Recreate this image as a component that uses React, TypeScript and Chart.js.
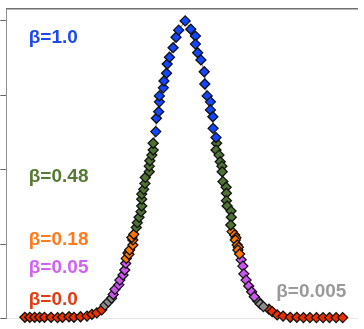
import React, { useEffect, useRef } from "react";
import { Chart, registerables } from "chart.js";

Chart.register(...registerables);

// [x, y] pairs, grouped by colour band
const blueSeries: number[][] = [
  [-0.957, 0.628], [-0.933, 0.673], [-0.857, 0.695], [-0.833, 0.728], [-0.833, 0.748],
  [-0.7, 0.775], [-0.677, 0.798], [-0.59, 0.824], [-0.567, 0.855], [-0.49, 0.878],
  [-0.367, 0.91], [-0.267, 0.945], [-0.177, 0.969], [0.043, 1.0],
  [0.233, 0.972], [0.39, 0.949], [0.39, 0.922], [0.467, 0.893], [0.577, 0.869],
  [0.69, 0.829], [0.71, 0.788], [0.79, 0.748], [0.9, 0.728], [0.9, 0.701],
  [0.983, 0.678], [0.99, 0.639], [1.09, 0.608],
];
const greenSeries: number[][] = [
  [-1.617, 0.306], [-1.583, 0.322], [-1.523, 0.34], [-1.457, 0.359], [-1.433, 0.378],
  [-1.433, 0.401], [-1.433, 0.418], [-1.367, 0.434], [-1.323, 0.454], [-1.31, 0.474],
  [-1.177, 0.493], [-1.177, 0.512], [-1.157, 0.53], [-1.09, 0.549], [-1.043, 0.566],
  [-1.043, 0.589],
  [1.11, 0.589], [1.09, 0.566], [1.19, 0.549], [1.233, 0.527], [1.29, 0.512],
  [1.3, 0.493], [1.323, 0.46], [1.433, 0.441], [1.443, 0.421], [1.443, 0.396],
  [1.467, 0.378], [1.6, 0.361], [1.61, 0.34], [1.59, 0.314],
];
const orangeSeries: number[][] = [
  [-1.957, 0.202], [-1.9, 0.22], [-1.867, 0.216], [-1.843, 0.23], [-1.733, 0.247],
  [-1.733, 0.264], [-1.767, 0.272], [-1.7, 0.283],
  [1.633, 0.292], [1.723, 0.281], [1.767, 0.271], [1.743, 0.264], [1.81, 0.247],
  [1.85, 0.239], [1.833, 0.23], [1.89, 0.217],
];
const purpleSeries: number[][] = [
  [-2.4, 0.081], [-2.343, 0.098], [-2.21, 0.113], [-2.177, 0.129], [-2.067, 0.146],
  [-2.01, 0.163], [-1.977, 0.185],
  [1.943, 0.197], [2.0, 0.176], [2.033, 0.15], [2.11, 0.129], [2.2, 0.109],
  [2.3, 0.09], [2.39, 0.073],
];
const graySeries: number[][] = [
  [-2.677, 0.045], [-2.567, 0.056], [-2.457, 0.068],
  [2.5, 0.06], [2.59, 0.049], [2.7, 0.04],
];
const redSeries: number[][] = [
  [-5.4, 0.004], [-5.233, 0.004], [-5.067, 0.004], [-4.9, 0.004], [-4.733, 0.004],
  [-4.51, 0.004], [-4.29, 0.003], [-4.123, 0.004], [-3.9, 0.006], [-3.733, 0.004],
  [-3.51, 0.006], [-3.29, 0.008], [-3.123, 0.014], [-2.957, 0.019], [-2.79, 0.029],
  [2.89, 0.031], [3.0, 0.023], [3.167, 0.012], [3.367, 0.008], [3.61, 0.004],
  [3.833, 0.004], [4.057, 0.003], [4.277, 0.003], [4.5, 0.003], [4.723, 0.003],
  [4.943, 0.003], [5.167, 0.003], [5.39, 0.003],
];

const yTicks = [0, 0.25, 0.5, 0.75, 1.0];

const labelTexts = ["β=1.0", "β=0.48", "β=0.18", "β=0.05", "β=0.0", "β=0.005"];
const labelX = [-5.267, -5.267, -5.267, -5.267, -5.267, 3.133];
const labelY = [0.943, 0.475, 0.264, 0.17, 0.062, 0.09];

const pointColors = ["#1446ff", "#4f7333", "#ff7700", "#cc55ee", "#8c8c8c", "#e83000"];
const labelColors = ["#1c48f2", "#557a32", "#ff7a1a", "#d160f5", "#e23a12", "#9a9a9a"];

export default function App() {
  const ref = useRef<HTMLCanvasElement | null>(null);

  useEffect(() => {
    if (!ref.current) return;
    const groups = [blueSeries, greenSeries, orangeSeries, purpleSeries, graySeries, redSeries];
    const toPts = (arr: number[][]) => arr.map(([x, y]) => ({ x, y }));
    const curve = groups
      .flat()
      .map(([x, y]) => ({ x, y }))
      .sort((a, b) => a.x - b.x);

    const labelPlugin = {
      id: "bandLabels",
      afterDatasetsDraw(chart: any) {
        const { ctx, scales } = chart;
        ctx.save();
        ctx.font = 'bold 19px "Liberation Sans", Arial, sans-serif';
        ctx.textAlign = "left";
        ctx.textBaseline = "middle";
        labelTexts.forEach((t, i) => {
          ctx.fillStyle = labelColors[i];
          ctx.fillText(t, scales.x.getPixelForValue(labelX[i]), scales.y.getPixelForValue(labelY[i]));
        });
        ctx.restore();
      },
    };

    const scatterDs = groups.map((g, i) => ({
      data: toPts(g),
      pointStyle: "rectRot",
      pointRadius: 5,
      pointBackgroundColor: pointColors[i],
      pointBorderColor: "#111111",
      pointBorderWidth: 1.3,
      showLine: false,
      clip: false,
    }));

    const chart = new Chart(ref.current, {
      type: "scatter",
      data: {
        datasets: [
          ...scatterDs,
          {
            data: curve,
            showLine: true,
            borderColor: "#8a8a8a",
            borderWidth: 1,
            pointRadius: 0,
            clip: false,
          },
        ] as any,
      },
      options: {
        animation: false,
        responsive: false,
        layout: { padding: { left: 0, top: 9, right: 0, bottom: 10.5 } },
        plugins: { legend: { display: false }, tooltip: { enabled: false } },
        scales: {
          x: {
            type: "linear",
            position: "bottom",
            min: -6.03,
            max: 5.9,
            grid: { display: false, drawTicks: false, tickLength: 0 },
            ticks: { display: false },
            border: { display: true, color: "#e6e6e6", width: 1 },
          },
          x2: {
            type: "linear",
            position: "top",
            min: -6.03,
            max: 5.9,
            grid: { display: false, drawTicks: false, tickLength: 0 },
            ticks: { display: false },
            border: { display: true, color: "#707070", width: 1.5 },
          },
          y: {
            type: "linear",
            position: "left",
            min: 0,
            max: 1.04,
            afterBuildTicks: (axis: any) => {
              axis.ticks = yTicks.map((v) => ({ value: v }));
            },
            grid: { drawOnChartArea: false, drawTicks: true, tickLength: 6, color: "#666666" },
            ticks: { display: false },
            border: { display: true, color: "#8f8f8f", width: 1 },
          },
        },
      } as any,
      plugins: [labelPlugin],
    });
    return () => chart.destroy();
  }, []);

  return (
    <div style={{ position: "absolute", left: 0, top: 0, width: 364, height: 329, background: "#fff" }}>
      <canvas ref={ref} width={364} height={329} style={{ display: "block" }} />
    </div>
  );
}
